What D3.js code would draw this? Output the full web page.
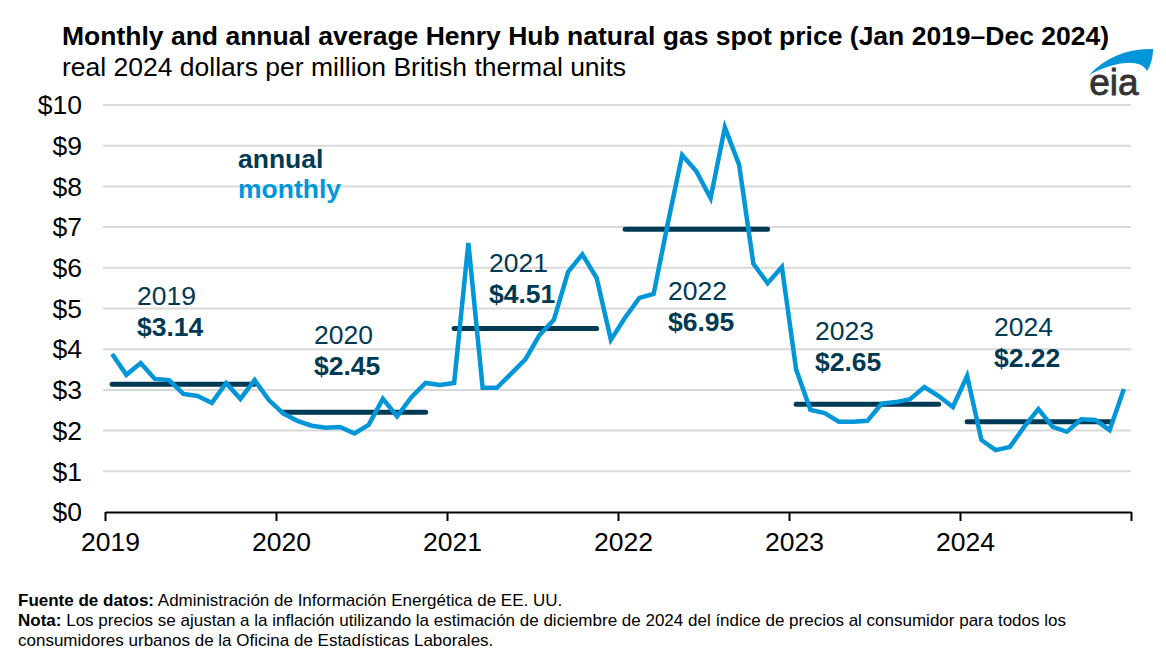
<!DOCTYPE html>
<html>
<head>
<meta charset="utf-8">
<script src="https://cdn.jsdelivr.net/npm/d3@7"></script>
<style>
  html, body { margin: 0; padding: 0; background: #fff; }
  svg { display: block; font-family: "Liberation Sans", Arial, sans-serif; }
</style>
</head>
<body>
<svg id="chart" width="1166" height="661"></svg>
<script>
// ---- data ----
const years = [2019, 2020, 2021, 2022, 2023, 2024];
const monthly2019 = [3.88, 3.37, 3.66, 3.27, 3.24, 2.90, 2.85, 2.68, 3.17, 2.78, 3.24, 2.75];
const monthly2020 = [2.42, 2.24, 2.12, 2.07, 2.09, 1.93, 2.14, 2.78, 2.35, 2.82, 3.17, 3.12];
const monthly2021 = [3.17, 6.61, 3.05, 3.05, 3.40, 3.75, 4.35, 4.72, 5.90, 6.33, 5.75, 4.23];
const monthly2022 = [4.78, 5.26, 5.36, 7.10, 8.77, 8.37, 7.71, 9.45, 8.53, 6.10, 5.62, 6.02];
const monthly2023 = [3.50, 2.51, 2.43, 2.22, 2.22, 2.24, 2.66, 2.70, 2.77, 3.07, 2.85, 2.58];
const monthly2024 = [3.34, 1.77, 1.52, 1.60, 2.09, 2.53, 2.09, 1.97, 2.28, 2.26, 2.01, 3.02];
const annualAvg = [3.14, 2.45, 4.51, 6.95, 2.65, 2.22];
const yTicks = [0, 1, 2, 3, 4, 5, 6, 7, 8, 9, 10];
const yTickLabels = ["$0", "$1", "$2", "$3", "$4", "$5", "$6", "$7", "$8", "$9", "$10"];
const annualLabels = ["$3.14", "$2.45", "$4.51", "$6.95", "$2.65", "$2.22"];

const monthly = [].concat(monthly2019, monthly2020, monthly2021, monthly2022, monthly2023, monthly2024);

// ---- layout ----
const svg = d3.select("#chart");
const plot = { left: 105, right: 1131, top: 105, bottom: 512 };
const blue = "#0096d7";
const navy = "#003953";
const fs = 26.5;

const x = d3.scaleLinear().domain([0, 72]).range([plot.left, plot.right]);
const y = d3.scaleLinear().domain([0, 10]).range([plot.bottom, plot.top]);

// gridlines
svg.append("g").selectAll("line").data(yTicks.filter(d => d > 0)).join("line")
  .attr("x1", plot.left - 2).attr("x2", plot.right)
  .attr("y1", d => y(d)).attr("y2", d => y(d))
  .attr("stroke", "#d9d9d9").attr("stroke-width", 2);

// y labels
svg.append("g").selectAll("text").data(yTicks).join("text")
  .attr("x", 82).attr("y", d => y(d)).attr("dy", "0.35em")
  .attr("text-anchor", "end").attr("font-size", fs).attr("fill", "#000")
  .text((d, i) => yTickLabels[i]);

// x axis
const xAxis = d3.axisBottom(x)
  .tickValues(d3.range(0, 73, 12))
  .tickFormat(d => d < 72 ? years[d / 12] : "")
  .tickSize(9).tickSizeOuter(0).tickPadding(11);
const gx = svg.append("g").attr("transform", `translate(0,${plot.bottom})`).call(xAxis);
gx.select(".domain").attr("stroke", "#000").attr("stroke-width", 2);
gx.selectAll(".tick line").attr("stroke", "#000").attr("stroke-width", 2);
gx.selectAll(".tick text").attr("font-size", fs).attr("fill", "#000").attr("dx", 5)
  .attr("font-family", "Liberation Sans, Arial, sans-serif");

// annual lines
svg.append("g").selectAll("line").data(annualAvg).join("line")
  .attr("x1", (d, i) => x(i * 12 + 0.5)).attr("x2", (d, i) => x(i * 12 + 10.5))
  .attr("y1", d => y(d)).attr("y2", d => y(d))
  .attr("stroke", navy).attr("stroke-width", 5).attr("stroke-linecap", "round");

// monthly line
const line = d3.line().x((d, i) => x(i + 0.5)).y(d => y(d));
svg.append("path").datum(monthly)
  .attr("d", line).attr("fill", "none")
  .attr("stroke", blue).attr("stroke-width", 4.5)
  .attr("stroke-linejoin", "miter").attr("stroke-linecap", "butt");

// annual labels
const labelPos = [[137, 305], [314, 344], [489, 272], [668, 300], [815, 340], [994, 336]];
years.forEach((yr, i) => {
  const g = svg.append("g");
  g.append("text").attr("x", labelPos[i][0]).attr("y", labelPos[i][1])
    .attr("font-size", fs).attr("fill", navy).text(yr);
  g.append("text").attr("x", labelPos[i][0]).attr("y", labelPos[i][1] + 31)
    .attr("font-size", fs).attr("font-weight", "bold").attr("fill", navy).text(annualLabels[i]);
});

// legend text
svg.append("text").attr("x", 238).attr("y", 168).attr("font-size", fs)
  .attr("font-weight", "bold").attr("fill", navy).text("annual");
svg.append("text").attr("x", 238).attr("y", 198).attr("font-size", fs)
  .attr("font-weight", "bold").attr("fill", blue).text("monthly");

// title
svg.append("text").attr("x", 62).attr("y", 45).attr("font-size", 26.5)
  .attr("font-weight", "bold").attr("fill", "#000")
  .text("Monthly and annual average Henry Hub natural gas spot price (Jan 2019–Dec 2024)");
svg.append("text").attr("x", 62).attr("y", 76).attr("font-size", 26.5)
  .attr("fill", "#000").text("real 2024 dollars per million British thermal units");

// eia logo
const logo = svg.append("g");
logo.append("path")
  .attr("d", "M1089,75 C1106,57 1128,48 1153,49 C1153,57 1151,65 1147,71 C1141,59 1118,60 1089,75 Z")
  .attr("fill", blue);
logo.append("text").attr("x", 1114).attr("y", 95).attr("text-anchor", "middle")
  .attr("font-size", 37).attr("fill", "#333").attr("stroke", "#333").attr("stroke-width", 0.8)
  .attr("font-family", "Liberation Sans, Arial, sans-serif")
  .text("eia");

// footer
const foot = svg.append("g").attr("font-size", 17).attr("fill", "#000");
const f1 = foot.append("text").attr("x", 18).attr("y", 606);
f1.append("tspan").attr("font-weight", "bold").text("Fuente de datos:");
f1.append("tspan").text(" Administración de Información Energética de EE. UU.");
const f2 = foot.append("text").attr("x", 18).attr("y", 626);
f2.append("tspan").attr("font-weight", "bold").text("Nota:");
f2.append("tspan").text(" Los precios se ajustan a la inflación utilizando la estimación de diciembre de 2024 del índice de precios al consumidor para todos los");
foot.append("text").attr("x", 18).attr("y", 646)
  .text("consumidores urbanos de la Oficina de Estadísticas Laborales.");
</script>
</body>
</html>
